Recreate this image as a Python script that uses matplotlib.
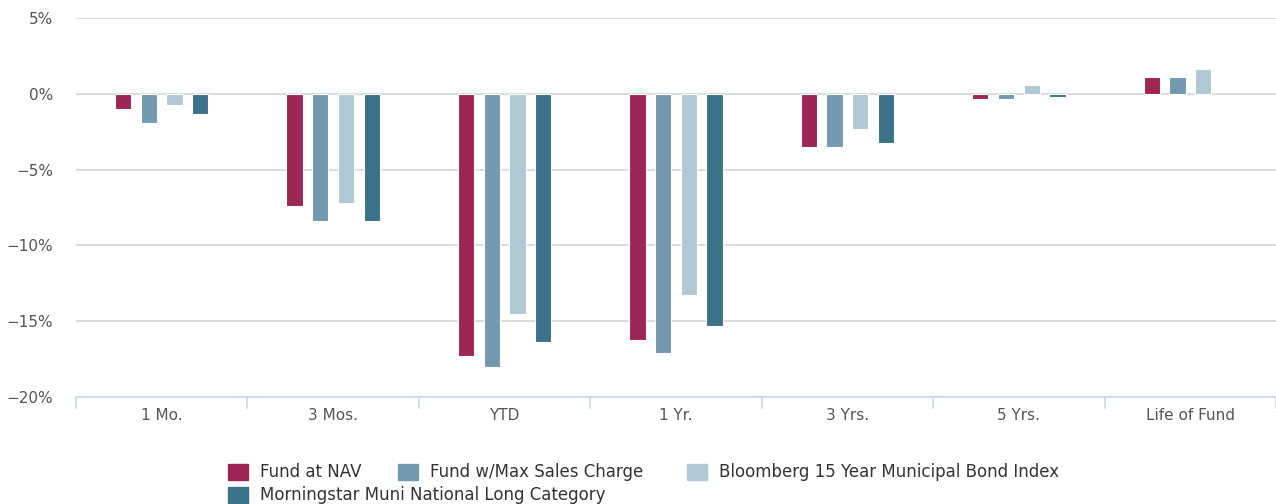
import numpy as np
import matplotlib.pyplot as plt
from matplotlib.patches import Rectangle

categories = ['1 Mo.', '3 Mos.', 'YTD', '1 Yr.', '3 Yrs.', '5 Yrs.', 'Life of Fund']
series_names = ['Fund at NAV', 'Fund w/Max Sales Charge',
                'Bloomberg 15 Year Municipal Bond Index',
                'Morningstar Muni National Long Category']
fund_nav = [-0.98, -7.40, -17.30, -16.25, -3.52, -0.35, 1.14]
fund_max = [-1.93, -8.40, -18.05, -17.10, -3.52, -0.37, 1.08]
bloomberg = [-0.74, -7.20, -14.50, -13.30, -2.33, 0.55, 1.63]
morningstar = [-1.35, -8.40, -16.40, -15.30, -3.22, -0.18, np.nan]
colors = ['#9e2654', '#7399b0', '#afc8d4', '#3b7189']

W, H = 1276, 504
fig = plt.figure(figsize=(W / 100, H / 100), dpi=100)
ax = fig.add_axes([76 / W, 1 - 397 / H, 1 - 76 / W, (397 - 18) / H])

x = np.arange(len(categories))
step = 0.15
width = 0.095
for i, (vals, c) in enumerate(zip([fund_nav, fund_max, bloomberg, morningstar], colors)):
    ax.bar(x + (i - 1.5) * step, vals, width, color=c, edgecolor='white',
           linewidth=0.8, zorder=3)

ax.set_xlim(-0.5, len(categories) - 0.5)
ax.set_ylim(-20, 5)
ax.set_yticks([5, 0, -5, -10, -15, -20])
ax.set_yticklabels(['5%', '0%', '\u22125%', '\u221210%', '\u221215%', '\u221220%'])
ax.grid(axis='y', color='#d6d6d6', linewidth=1.2, zorder=0)
ax.set_xticks(x)
ax.set_xticklabels(categories)
ax.tick_params(axis='y', length=0, pad=16.5, labelsize=11, labelcolor='#555555')
ax.tick_params(axis='x', length=0, pad=8, labelsize=11, labelcolor='#555555')
for s in ['top', 'right', 'left']:
    ax.spines[s].set_visible(False)
ax.spines['bottom'].set_color('#ccd6eb')
ax.spines['bottom'].set_linewidth(1.2)
# category boundary ticks
for b in np.arange(-0.5, len(categories), 1.0):
    ax.plot([b, b], [0, -0.03], transform=ax.get_xaxis_transform(),
            color='#ccd6eb', linewidth=1.2, clip_on=False)

# legend
items = [(228, 472), (398, 472), (687, 472), (228, 495)]
for (px, py), name, c in zip(items, series_names, colors):
    fig.add_artist(Rectangle(((px) / W, 1 - (py + 8) / H), 20 / W, 16 / H,
                             transform=fig.transFigure, color=c))
    fig.text((px + 32) / W, 1 - py / H, name, fontsize=12, color='#333333',
             va='center', ha='left')

fig.savefig('out.png', dpi=100)
